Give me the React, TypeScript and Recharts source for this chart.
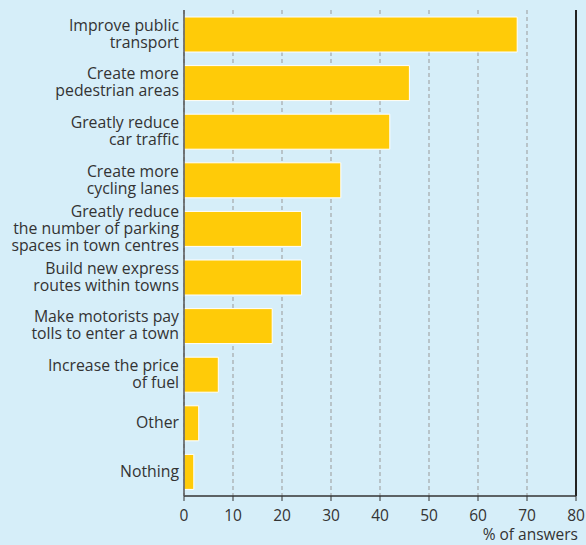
import React from 'react';
import { BarChart, Bar, XAxis, YAxis, CartesianGrid, ReferenceLine } from 'recharts';

const categories = [
  'Improve public\ntransport',
  'Create more\npedestrian areas',
  'Greatly reduce\ncar traffic',
  'Create more\ncycling lanes',
  'Greatly reduce\nthe number of parking\nspaces in town centres',
  'Build new express\nroutes within towns',
  'Make motorists pay\ntolls to enter a town',
  'Increase the price\nof fuel',
  'Other',
  'Nothing',
];
const values = [68, 46, 42, 32, 24, 24, 18, 7, 3, 2];
const xTicks = [0, 10, 20, 30, 40, 50, 60, 70, 80];

const data = categories.map((c, i) => ({ name: c, value: values[i] }));

const FONT = '"Open Sans", Lato, sans-serif';
const TEXT = '#333333';

const CategoryTick = (props: any) => {
  const { x, y, payload } = props;
  const lines = String(payload.value).split('\n');
  const lh = 17;
  const start = -((lines.length - 1) * lh) / 2;
  return (
    <g>
      {lines.map((l, i) => (
        <text
          key={i}
          x={x + 3}
          y={y + start + i * lh + 5}
          textAnchor="end"
          fill={TEXT}
          fontSize={15.8}
          fontFamily={FONT}
        >
          {l}
        </text>
      ))}
    </g>
  );
};

const AxisTitle = (props: any) => {
  const { viewBox } = props;
  const { x, y, width } = viewBox;
  return (
    <text x={x + width + 2} y={y + 44} textAnchor="end" fill={TEXT} fontSize={15.5} fontFamily={FONT}>
      % of answers
    </text>
  );
};

export default function App() {
  return (
    <div style={{ position: 'fixed', left: 0, top: 0, width: 586, height: 545, background: '#d6eef9' }}>
      <BarChart
        width={586}
        height={545}
        data={data}
        layout="vertical"
        margin={{ top: 10, right: 10, bottom: 0, left: 0 }}
        barSize={35}
      >
        <CartesianGrid horizontal={false} vertical={true} stroke="#999999" strokeDasharray="4 3" />
        <XAxis
          type="number"
          domain={[0, 80]}
          ticks={xTicks}
          height={49}
          axisLine={{ stroke: '#333', strokeWidth: 1.5 }}
          tickLine={{ stroke: '#333' }}
          tickSize={5}
          tickMargin={9}
          tick={{ fill: TEXT, fontSize: 15.5, fontFamily: FONT }}
          label={<AxisTitle />}
        />
        <XAxis
          xAxisId="top"
          orientation="top"
          type="number"
          domain={[0, 80]}
          height={0}
          tick={false}
          tickLine={false}
          axisLine={{ stroke: '#7d8c93', strokeWidth: 2.5 }}
        />
        <YAxis
          type="category"
          dataKey="name"
          width={184}
          axisLine={{ stroke: '#555', strokeWidth: 1.5 }}
          tickLine={false}
          tick={<CategoryTick />}
          interval={0}
        />
        <ReferenceLine x={80} stroke="#222" strokeWidth={2} />
        <Bar dataKey="value" fill="#ffcb08" stroke="#ffffff" strokeWidth={1} isAnimationActive={false} />
      </BarChart>
    </div>
  );
}
